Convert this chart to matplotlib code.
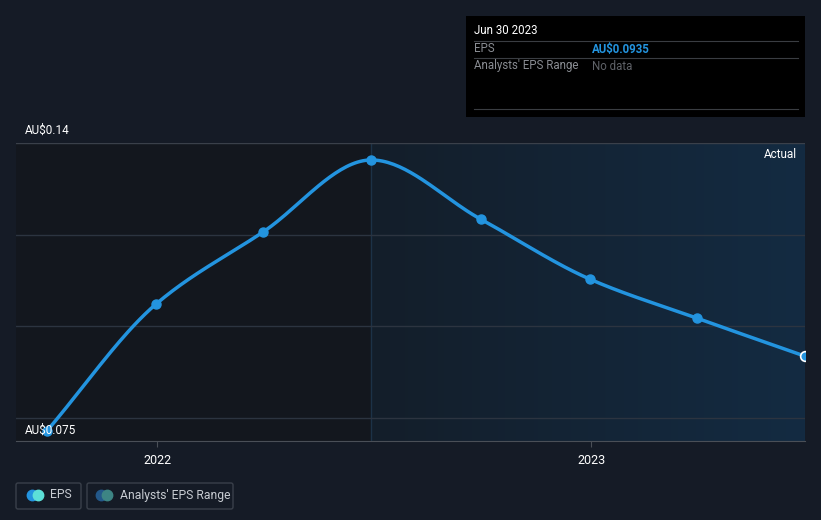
import matplotlib
matplotlib.use("Agg")
import matplotlib.pyplot as plt
import matplotlib.dates as mdates
from matplotlib.colors import LinearSegmentedColormap
from matplotlib.patches import FancyBboxPatch
import numpy as np
from datetime import datetime

# quarterly EPS (AU$)
dates = ["2021-09-30", "2021-12-31", "2022-03-31", "2022-06-30",
         "2022-09-30", "2022-12-31", "2023-03-31", "2023-06-30"]
eps = [0.0772, 0.1049, 0.1206, 0.1363, 0.1234, 0.1103, 0.1018, 0.0935]
y_labels = ["AU$0.14", "AU$0.075"]
x_ticks = ["2022-01-01", "2023-01-01"]
x_tick_labels = ["2022", "2023"]

BG = "#151b26"
BLUE = "#2394df"


def monotone(x, y, n=40):
    # monotone cubic interpolation (Fritsch-Carlson), like d3 curveMonotoneX
    x = np.asarray(x, float)
    y = np.asarray(y, float)
    h = np.diff(x)
    d = np.diff(y) / h
    m = np.zeros_like(y)
    m[0], m[-1] = d[0], d[-1]
    for i in range(1, len(y) - 1):
        if d[i - 1] * d[i] <= 0:
            m[i] = 0
        else:
            w1 = 2 * h[i] + h[i - 1]
            w2 = h[i] + 2 * h[i - 1]
            m[i] = (w1 + w2) / (w1 / d[i - 1] + w2 / d[i])
    xs, ys = [], []
    for i in range(len(h)):
        t = np.linspace(0, 1, n)
        h00 = 2 * t**3 - 3 * t**2 + 1
        h10 = t**3 - 2 * t**2 + t
        h01 = -2 * t**3 + 3 * t**2
        h11 = t**3 - t**2
        xs.extend(x[i] + t * h[i])
        ys.extend(h00 * y[i] + h10 * h[i] * m[i] + h01 * y[i + 1] + h11 * h[i] * m[i + 1])
    return np.array(xs), np.array(ys)


dts = [datetime.strptime(d, "%Y-%m-%d") for d in dates]
xnum = mdates.date2num(dts)

fig = plt.figure(figsize=(8.21, 5.2), dpi=100, facecolor=BG)
ax = fig.add_axes([16 / 821, 79 / 520, 789 / 821, 298 / 520])
ax.set_facecolor(BG)

x0 = mdates.date2num(datetime(2021, 9, 4))
x1 = xnum[-1]
ax.set_xlim(x0, x1)
ax.set_ylim(0.075, 0.14)

# past / actual shading
ax.axvspan(x0, xnum[3], color="#13171e", zorder=0)
cmap = LinearSegmentedColormap.from_list("act", ["#141e2a", "#132b42"])
ax.imshow(np.linspace(0, 1, 256).reshape(1, -1), cmap=cmap, aspect="auto",
          extent=[xnum[3], x1, 0.075, 0.14], zorder=0, interpolation="bilinear")
ax.axvline(xnum[3], color="#1c3247", lw=1, zorder=1)

for g in [0.08, 0.10, 0.12]:
    ax.axhline(g, color="#2c3440", lw=1, zorder=1)
ax.axhline(0.14, color="#3a404a", lw=1, zorder=1)

sx, sy = monotone(xnum, eps)
ax.plot(sx, sy, color=BLUE, lw=2.5, zorder=3, solid_capstyle="round")
ax.plot(xnum[:-1], eps[:-1], "o", color=BLUE, ms=6.5, zorder=4)
ax.plot(xnum[-1], eps[-1], "o", color=BLUE, mec="white", mew=1.2, ms=7, zorder=5)

for s in ["top", "left", "right"]:
    ax.spines[s].set_visible(False)
ax.spines["bottom"].set_color("#4a4f57")
ax.set_yticks([])
ax.set_xticks(mdates.date2num([datetime.strptime(t, "%Y-%m-%d") for t in x_ticks]))
ax.set_xticklabels(x_tick_labels, color="white", fontsize=9, family="Roboto")
ax.tick_params(axis="x", colors="#4a4f57", length=4, pad=5, labelcolor="white")

fig.text(25 / 821, 1 - 130 / 520, y_labels[0], color="white", fontsize=8.5,
         family="Roboto", va="center")
fig.text(25 / 821, 1 - 430 / 520, y_labels[1], color="white", fontsize=8.5,
         family="Roboto", va="center", zorder=0)
fig.text(797 / 821, 1 - 154 / 520, "Actual", color="white", fontsize=8.5,
         family="Roboto", va="center", ha="right")

# tooltip box
tip = fig.add_axes([466 / 821, 1 - 117 / 520, 339 / 821, 101 / 520])
tip.set_xlim(0, 339)
tip.set_ylim(101, 0)
tip.set_facecolor("black")
tip.set_xticks([])
tip.set_yticks([])
for s in tip.spines.values():
    s.set_visible(False)
tip.text(8, 15, "Jun 30 2023", color="white", fontsize=8.3, family="Roboto", va="center")
for yy in [25, 42, 93]:
    tip.plot([8, 332], [yy, yy], color="#3a3d42", lw=0.8)
tip.text(8, 33, "EPS", color="#8a8d93", fontsize=8.3, family="Roboto", va="center")
tip.text(126, 33, "AU$%.4f" % eps[-1], color=BLUE, fontsize=8.3, family="Roboto",
         weight="bold", va="center")
tip.text(8, 50, "Analysts' EPS Range", color="#8a8d93", fontsize=8.3, family="Roboto", va="center")
tip.text(126, 50, "No data", color="#5f6268", fontsize=8.3, family="Roboto", va="center")

# legend boxes
leg = fig.add_axes([0, 0, 1, 1], facecolor="none")
leg.set_xlim(0, 821)
leg.set_ylim(520, 0)
leg.axis("off")
for (bx, bw) in [(16, 65), (87, 146)]:
    leg.add_patch(FancyBboxPatch((bx, 483), bw, 26, boxstyle="round,pad=0,rounding_size=2",
                                 fc="none", ec="#3a404a", lw=1))
leg.plot([32], [495], "o", color=BLUE, ms=7.5)
leg.plot([38], [495], "o", color="#5ce0d8", ms=7.5)
leg.text(50, 495, "EPS", color="#c8ccd2", fontsize=8.7, family="Roboto", va="center")
leg.plot([101], [495], "o", color="#23588a", ms=7.5)
leg.plot([107], [495], "o", color="#3d8584", ms=7.5)
leg.text(120, 495, "Analysts' EPS Range", color="#c8ccd2", fontsize=8.7, family="Roboto",
         va="center")

fig.savefig("out.png", dpi=100, facecolor=BG)
